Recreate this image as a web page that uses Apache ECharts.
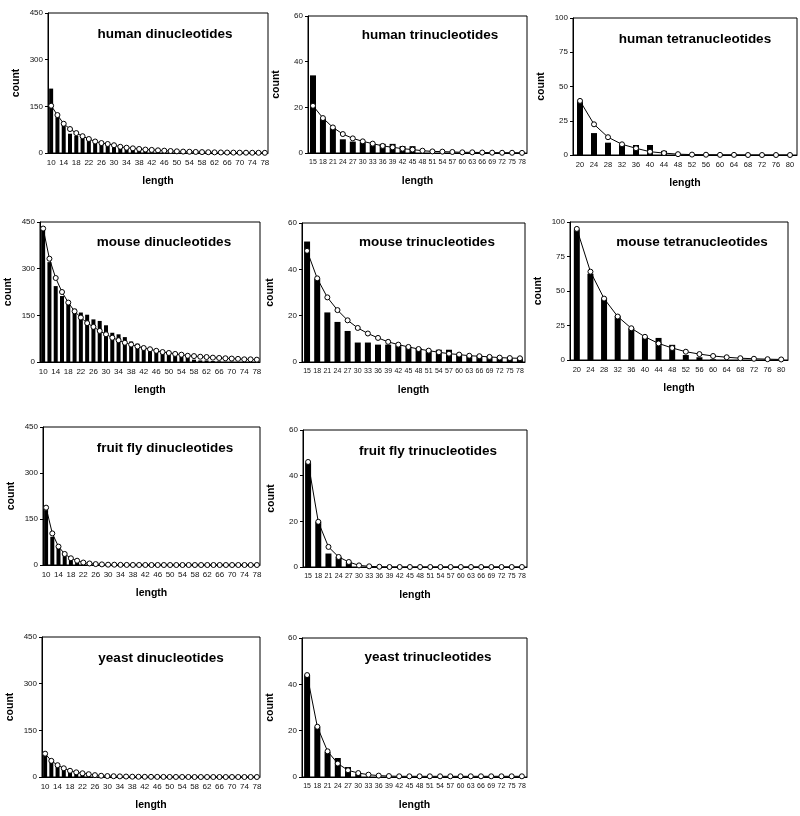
<!DOCTYPE html>
<html>
<head>
<meta charset="utf-8">
<script src="https://cdn.jsdelivr.net/npm/echarts@6/dist/echarts.min.js"></script>
<style>
html,body{margin:0;padding:0;background:#fff;}
#c{width:800px;height:816px;}
</style>
</head>
<body>
<div id="c"></div>
<script>
// ---- categories (repeat length, bp) ----
const diLengths = [10,12,14,16,18,20,22,24,26,28,30,32,34,36,38,40,42,44,46,48,50,52,54,56,58,60,62,64,66,68,70,72,74,76,78];
const triLengths = [15,18,21,24,27,30,33,36,39,42,45,48,51,54,57,60,63,66,69,72,75,78];
const tetraLengths = [20,24,28,32,36,40,44,48,52,56,60,64,68,72,76,80];

// ---- y tick values ----
const diTicks = [0,150,300,450];
const triTicks = [0,20,40,60];
const tetraTicks = [0,25,50,75,100];

// ---- observed counts (bars) and fitted curves (line) ----
const humanDiObs = [207,115,90,62,55,48,42,35,30,28,22,25,15,12,10,8,7,6,5,4,3,3,2,2,1,1,1,0,0,0,0,0,0,0,0];
const humanDiFit = [152,122,94,77,64,54,45,37,32,29,25,20,17,15,13,11,10,8.6,7.5,6.4,5.4,4.5,4,3.4,2.9,2.5,2.1,1.8,1.5,1.3,1.1,1,0.8,0.7,0.6];

const humanTriObs = [34,15,11,6,5,4.7,4,4,4,3,3,0,0,0,0,0,0,0,0,0,0,0];
const humanTriFit = [20.7,15.3,11.2,8.3,6.4,5.1,4.1,3.1,2.5,1.9,1.5,1.0,0.7,0.6,0.45,0.3,0.3,0.2,0.15,0.1,0.1,0.05];

const humanTetraObs = [39,16,9,8,7.3,7.3,3,0,0,0,0,0,0,0,0,0];
const humanTetraFit = [39.5,22.4,13,7.8,4.9,2.4,1.4,0.6,0.3,0.2,0.1,0.1,0,0,0,0];

const mouseDiObs = [425,321,244,212,193,171,159,152,137,132,118,94,89,80,66,59,51,45,37.5,32,25,21,16,13,7.5,5,5,3,2,1,1,0,0,0,0];
const mouseDiFit = [429,332,270,225,191,163,143,125,113,100,89,78,70,62,56,50,45,41,36,32,29,26,23.5,20,19,17,16,14,13,12,11,10,8.6,8.6,7.5];

const mouseTriObs = [52,36,21.4,17.3,13.4,8.4,8.4,7.5,7.5,7.2,6.5,6,5,5.3,5.3,3.6,2.9,2.7,2.2,1.9,1.7,1.9];
const mouseTriFit = [48,36.1,27.9,22.4,18,14.7,12.3,10.4,8.7,7.5,6.5,5.6,4.9,4.2,3.6,3.2,2.7,2.5,2.2,1.9,1.7,1.6];

const mouseTetraObs = [94.5,62.5,45,32,23,17,16,11,3.6,2,0.5,0,0,0,0,0];
const mouseTetraFit = [95,64,44.5,31.5,23,16.8,12,8.7,6,4.3,2.9,2,1.3,0.9,0.6,0.4];

const flyDiObs = [179,92,60,35,22,11,5,0,0,0,0,0,0,0,0,0,0,0,0,0,0,0,0,0,0,0,0,0,0,0,0,0,0,0,0];
const flyDiFit = [187,103,60,36,22,14,8,5,3,2,1,1,0.5,0.3,0.2,0.1,0.1,0,0,0,0,0,0,0,0,0,0,0,0,0,0,0,0,0,0];

const flyTriObs = [45.7,19.8,5.9,4.4,2.2,0,0,0,0,0,0,0,0,0,0,0,0,0,0,0,0,0];
const flyTriFit = [46,19.8,8.8,4.4,2.2,0.7,0.3,0.1,0,0,0,0,0,0,0,0,0,0,0,0,0,0];

const yeastDiObs = [75,52,39,30,22,16,12,9,5,3,1,1,0.5,0,0,0,0,0,0,0,0,0,0,0,0,0,0,0,0,0,0,0,0,0,0];
const yeastDiFit = [75,52,38,28,20,15,12,9,6,4,3,2.5,2,1.5,1,0.8,0.6,0.5,0.4,0.3,0.2,0.2,0.1,0.1,0,0,0,0,0,0,0,0,0,0,0];

const yeastTriObs = [44,21.7,10.8,8.2,4.3,1.4,0,0,0,0,0,0,0,0,0,0,0,0,0,0,0,0];
const yeastTriFit = [44,21.7,11.1,5.8,2.9,1.7,1,0.6,0.4,0.3,0.3,0.3,0.3,0.3,0.3,0.3,0.3,0.3,0.3,0.3,0.3,0.3];

const panelTitles = ['human dinucleotides','human trinucleotides','human tetranucleotides',
  'mouse dinucleotides','mouse trinucleotides','mouse tetranucleotides',
  'fruit fly dinucleotides','fruit fly trinucleotides',
  'yeast dinucleotides','yeast trinucleotides'];

// ---- layout (pixel rectangles of plot areas, title centres) ----
const FONT = '"Liberation Sans", Arial, sans-serif';
const panels = [
  {x0:48,y0:13,x1:268,y1:153, tx:165,ty:35, kind:'di', obs:humanDiObs, fit:humanDiFit},
  {x0:308,y0:16,x1:527,y1:153, tx:430,ty:36, kind:'tri', obs:humanTriObs, fit:humanTriFit},
  {x0:573,y0:18,x1:797,y1:155, tx:695,ty:40, kind:'tetra', obs:humanTetraObs, fit:humanTetraFit},
  {x0:40,y0:222,x1:260,y1:362, tx:164,ty:243, kind:'di', obs:mouseDiObs, fit:mouseDiFit},
  {x0:302,y0:223,x1:525,y1:362, tx:427,ty:243, kind:'tri', obs:mouseTriObs, fit:mouseTriFit},
  {x0:570,y0:222,x1:788,y1:360, tx:692,ty:243, kind:'tetra', obs:mouseTetraObs, fit:mouseTetraFit},
  {x0:43,y0:427,x1:260,y1:565, tx:165,ty:449, kind:'di', obs:flyDiObs, fit:flyDiFit},
  {x0:303,y0:430,x1:527,y1:567, tx:428,ty:452, kind:'tri', obs:flyTriObs, fit:flyTriFit},
  {x0:42,y0:637,x1:260,y1:777, tx:161,ty:659, kind:'di', obs:yeastDiObs, fit:yeastDiFit},
  {x0:302,y0:638,x1:527,y1:777, tx:428,ty:658, kind:'tri', obs:yeastTriObs, fit:yeastTriFit}
];

const kinds = {
  di:    {cats:diLengths, ticks:diTicks, labelInterval:1, fs:8, barW:4},
  tri:   {cats:triLengths, ticks:triTicks, labelInterval:0, fs:7, barW:6},
  tetra: {cats:tetraLengths, ticks:tetraTicks, labelInterval:0, fs:7.5, barW:6}
};

const grid=[], xAxis=[], yAxis=[], series=[], title=[];
panels.forEach((p,i)=>{
  const k = kinds[p.kind];
  const tk = k.ticks;
  grid.push({left:p.x0, top:p.y0, width:p.x1-p.x0, height:p.y1-p.y0,
    show:true, borderColor:'#000', borderWidth:1, backgroundColor:'#fff'});
  xAxis.push({type:'category', gridIndex:i, data:k.cats.map(String), boundaryGap:true,
    axisLine:{lineStyle:{color:'#000',width:1}}, axisTick:{show:false},
    axisLabel:{interval:k.labelInterval, color:'#111', fontSize:k.fs, fontFamily:FONT, margin:6},
    name:'length', nameLocation:'middle', nameGap:23,
    nameTextStyle:{fontWeight:'bold', fontSize:10.5, color:'#000', fontFamily:FONT}});
  yAxis.push({type:'value', gridIndex:i, min:0, max:tk[tk.length-1], interval:tk[1]-tk[0],
    axisLine:{show:true, lineStyle:{color:'#000',width:1}},
    axisTick:{show:true, length:3, lineStyle:{color:'#000'}},
    splitLine:{show:false},
    axisLabel:{color:'#111', fontSize:8, fontFamily:FONT, margin:5},
    name:'count', nameLocation:'middle', nameGap:26, nameRotate:90,
    nameTextStyle:{fontWeight:'bold', fontSize:10.5, color:'#000', fontFamily:FONT}});
  series.push({type:'bar', xAxisIndex:i, yAxisIndex:i, data:p.obs, barWidth:k.barW,
    itemStyle:{color:'#000'}, silent:true, animation:false});
  series.push({type:'line', xAxisIndex:i, yAxisIndex:i, data:p.fit, symbol:'circle', symbolSize:5,
    showAllSymbol:true, lineStyle:{color:'#000', width:1},
    itemStyle:{color:'#fff', borderColor:'#000', borderWidth:1}, z:3, silent:true, animation:false});
  title.push({text:panelTitles[i], left:p.tx, top:p.ty-8, textAlign:'center', padding:0,
    textStyle:{fontSize:13.5, fontWeight:'bold', color:'#000', fontFamily:FONT}});
});

const chart = echarts.init(document.getElementById('c'), null, {renderer:'canvas'});
chart.setOption({backgroundColor:'#fff', animation:false, title, grid, xAxis, yAxis, series});
</script>
</body>
</html>
